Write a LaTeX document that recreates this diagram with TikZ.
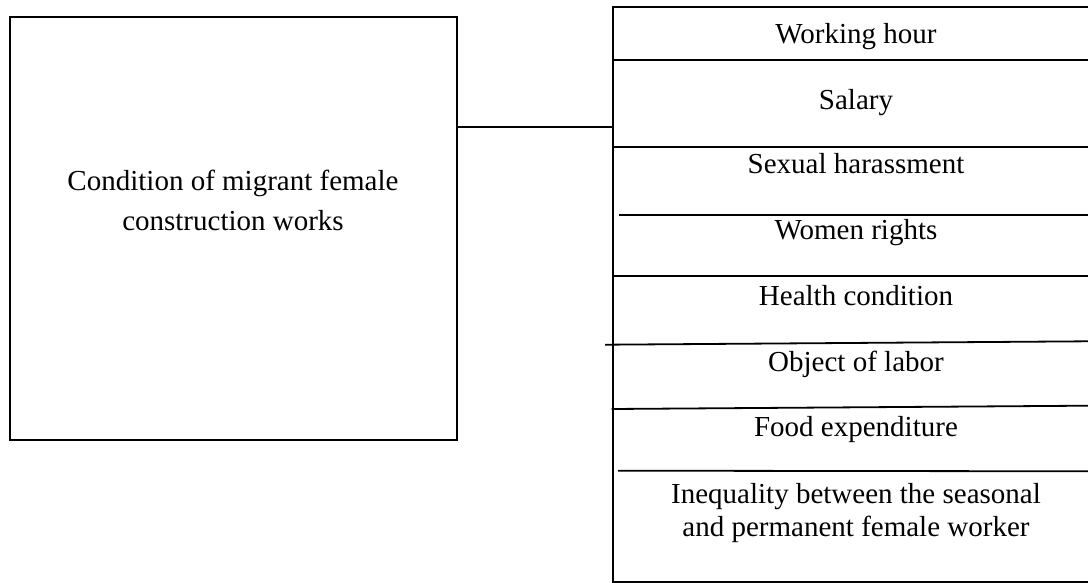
\documentclass[tikz,border=0pt]{standalone}
\usepackage{fontspec}
\setmainfont{Liberation Serif}
\begin{document}
\begin{tikzpicture}[x=1pt,y=-1pt,
  rule/.style={line width=1.8pt, black},
  lbl/.style={anchor=base, inner sep=0pt, font=\fontsize{29}{33}\selectfont, align=center}]
\useasboundingbox (0,0) rectangle (1088,583);
% left box
\node[rule, draw, rectangle, minimum width=446.7pt, minimum height=423pt, inner sep=0pt] (cond) at (233.35,228.5) {};
\node[lbl, font=\fontsize{29}{40.5}\selectfont] (condtxt) at (233,230.5) {Condition of migrant female\\construction works};
% right column frame
\coordinate (rtl) at (612.7,6.7);
\coordinate (rbl) at (612.7,582);
\coordinate (rtr) at (1088,6.7);
\coordinate (rbr) at (1088,582);
\coordinate (rjoin) at (612.7,126.7);
\draw[rule] (rtr) -- (rtl) -- (rbl) -- (rbr);
% connector
\draw[rule] (cond.east |- rjoin) -- (rjoin);
% dividers
\draw[rule] (612.7,60) -- (1088,60);
\draw[rule] (612.7,146.7) -- (1088,146.7);
\draw[rule] (619,215) -- (1088,215);
\draw[rule] (612.7,276) -- (1088,276);
\draw[rule] (605,344.7) -- (1088,341.3);
\draw[rule] (611.7,409) -- (1088,405.7);
\draw[rule] (618,470.7) -- (1088,471.3);
% labels
\node[lbl] (l1) at (856,43.3) {Working hour};
\node[lbl] (l2) at (856,110) {Salary};
\node[lbl] (l3) at (856,174) {Sexual harassment};
\node[lbl] (l4) at (856,240) {Women rights};
\node[lbl] (l5) at (856,305.7) {Health condition};
\node[lbl] (l6) at (856,371.3) {Object of labor};
\node[lbl] (l7) at (856,436.3) {Food expenditure};
\node[lbl] (l8) at (856,536) {Inequality between the seasonal\\and permanent female worker};
\end{tikzpicture}
\end{document}
